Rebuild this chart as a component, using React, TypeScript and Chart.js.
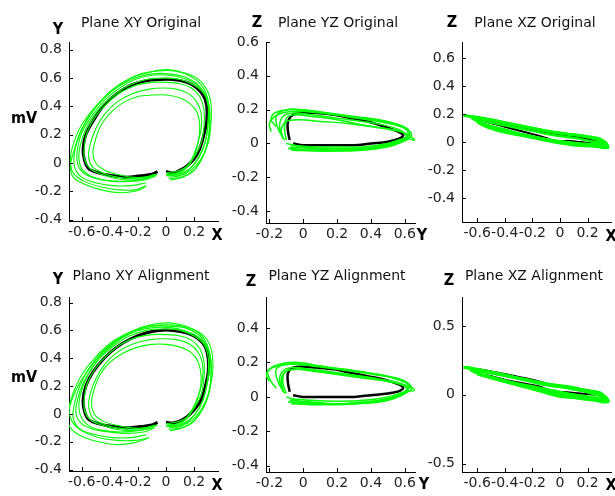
import React, { useEffect, useRef } from 'react';
import { Chart, registerables } from 'chart.js';

Chart.register(...registerables);

type P = [number, number];

// ---------- tick labels ----------
const xTicksX: number[] = [-0.6, -0.4, -0.2, 0, 0.2];
const xyTicksY: number[] = [-0.4, -0.2, 0, 0.2, 0.4, 0.6, 0.8];
const yzTicksX: number[] = [-0.2, 0, 0.2, 0.4, 0.6];
const yzOrigTicksY: number[] = [-0.4, -0.2, 0, 0.2, 0.4, 0.6];
const yzAlignTicksY: number[] = [-0.4, -0.2, 0, 0.2, 0.4];
const xzOrigTicksY: number[] = [-0.4, -0.2, 0, 0.2, 0.4, 0.6];
const xzAlignTicksY: number[] = [-0.5, 0, 0.5];

// ---------- Plane XY Original ----------
const xyOrigMean: P[] = [[0.0,-0.06],[0.05,-0.07],[0.1,-0.05],[0.15,-0.02],[0.2,0.03],[0.24,0.1],[0.27,0.2],[0.29,0.3],[0.29,0.4],[0.27,0.47],[0.22,0.53],[0.15,0.57],[0.05,0.59],[-0.05,0.59],[-0.15,0.58],[-0.25,0.55],[-0.35,0.49],[-0.44,0.41],[-0.51,0.31],[-0.57,0.2],[-0.59,0.1],[-0.58,0.02],[-0.55,-0.04],[-0.48,-0.07],[-0.38,-0.09],[-0.28,-0.1],[-0.18,-0.09],[-0.1,-0.08],[-0.06,-0.06]];
const xyOrigBeat1: P[] = [[0.02,-0.1],[0.1,-0.09],[0.18,-0.05],[0.25,0.03],[0.3,0.14],[0.32,0.28],[0.32,0.42],[0.29,0.52],[0.22,0.6],[0.12,0.64],[0.0,0.66],[-0.12,0.64],[-0.25,0.6],[-0.38,0.52],[-0.5,0.4],[-0.6,0.27],[-0.66,0.13],[-0.68,0.02],[-0.66,-0.07],[-0.58,-0.13],[-0.46,-0.17],[-0.34,-0.19],[-0.22,-0.19],[-0.14,-0.16]];
const xyOrigBeat2: P[] = [[0.0,-0.08],[0.08,-0.07],[0.15,-0.03],[0.2,0.05],[0.23,0.15],[0.24,0.27],[0.22,0.36],[0.17,0.42],[0.1,0.46],[0.0,0.48],[-0.1,0.48],[-0.2,0.47],[-0.3,0.43],[-0.39,0.36],[-0.46,0.27],[-0.5,0.17],[-0.52,0.07],[-0.5,0.0],[-0.44,-0.05],[-0.35,-0.08],[-0.25,-0.1],[-0.15,-0.1],[-0.08,-0.08]];
const xyOrigBeat3: P[] = [[0.01,-0.08],[0.08,-0.09],[0.15,-0.06],[0.21,0.0],[0.26,0.09],[0.29,0.2],[0.3,0.32],[0.3,0.42],[0.27,0.5],[0.21,0.56],[0.12,0.6],[0.02,0.62],[-0.1,0.62],[-0.22,0.59],[-0.33,0.53],[-0.44,0.44],[-0.53,0.33],[-0.6,0.21],[-0.63,0.1],[-0.63,0.0],[-0.59,-0.07],[-0.5,-0.11],[-0.38,-0.13],[-0.26,-0.13],[-0.15,-0.12],[-0.07,-0.09]];
const xyOrigBeat4: P[] = [[0.0,-0.07],[0.07,-0.06],[0.14,-0.03],[0.2,0.04],[0.25,0.14],[0.27,0.26],[0.27,0.38],[0.24,0.47],[0.18,0.53],[0.1,0.56],[0.0,0.57],[-0.1,0.57],[-0.21,0.55],[-0.32,0.5],[-0.42,0.42],[-0.5,0.33],[-0.56,0.22],[-0.58,0.12],[-0.58,0.03],[-0.54,-0.04],[-0.46,-0.08],[-0.36,-0.11],[-0.25,-0.12],[-0.14,-0.11],[-0.06,-0.08]];
const xyOrigBeat5: P[] = [[0.03,-0.12],[0.12,-0.1],[0.2,-0.05],[0.26,0.04],[0.3,0.16],[0.31,0.3],[0.3,0.44],[0.26,0.54],[0.18,0.61],[0.06,0.65],[-0.06,0.65],[-0.18,0.63],[-0.3,0.57],[-0.42,0.48],[-0.52,0.37],[-0.6,0.24],[-0.65,0.1],[-0.68,-0.02],[-0.66,-0.1],[-0.58,-0.15],[-0.46,-0.19],[-0.33,-0.21],[-0.22,-0.2],[-0.15,-0.17]];
const xyOrigBeat6: P[] = [[0.0,-0.09],[0.09,-0.08],[0.17,-0.04],[0.23,0.04],[0.28,0.15],[0.3,0.28],[0.3,0.4],[0.27,0.49],[0.2,0.55],[0.1,0.59],[-0.02,0.6],[-0.14,0.59],[-0.26,0.55],[-0.37,0.48],[-0.47,0.39],[-0.55,0.28],[-0.6,0.16],[-0.62,0.05],[-0.6,-0.04],[-0.54,-0.09],[-0.44,-0.12],[-0.32,-0.13],[-0.2,-0.12],[-0.1,-0.1]];
const xyOrigBeat7: P[] = [[0.02,-0.11],[0.11,-0.1],[0.19,-0.06],[0.25,0.02],[0.29,0.12],[0.31,0.25],[0.31,0.38],[0.28,0.48],[0.22,0.56],[0.13,0.61],[0.02,0.63],[-0.1,0.63],[-0.22,0.6],[-0.34,0.54],[-0.45,0.45],[-0.54,0.34],[-0.61,0.21],[-0.65,0.08],[-0.65,-0.03],[-0.6,-0.1],[-0.5,-0.14],[-0.38,-0.16],[-0.25,-0.16],[-0.14,-0.14]];
const xyOrigBeat8: P[] = [[0.01,-0.09],[0.07,-0.08],[0.13,-0.05],[0.18,0.02],[0.22,0.12],[0.25,0.24],[0.25,0.35],[0.22,0.43],[0.16,0.49],[0.08,0.52],[-0.02,0.53],[-0.13,0.52],[-0.24,0.49],[-0.35,0.43],[-0.44,0.34],[-0.5,0.24],[-0.54,0.13],[-0.55,0.04],[-0.52,-0.03],[-0.45,-0.07],[-0.35,-0.1],[-0.24,-0.11],[-0.14,-0.1],[-0.07,-0.08]];

// ---------- Plane YZ Original ----------
const yzOrigMean: P[] = [[-0.06,0.0],[0.0,-0.01],[0.1,-0.01],[0.2,-0.01],[0.3,-0.01],[0.4,0.0],[0.5,0.01],[0.57,0.03],[0.59,0.05],[0.56,0.07],[0.48,0.1],[0.38,0.13],[0.28,0.15],[0.18,0.17],[0.08,0.18],[0.0,0.18],[-0.06,0.17],[-0.09,0.13],[-0.09,0.07],[-0.08,0.02]];
const yzOrigBeat1: P[] = [[-0.08,-0.02],[0.05,-0.03],[0.2,-0.04],[0.35,-0.03],[0.5,-0.01],[0.6,0.02],[0.64,0.05],[0.6,0.09],[0.5,0.12],[0.38,0.14],[0.25,0.16],[0.1,0.18],[-0.05,0.19],[-0.15,0.17],[-0.2,0.12],[-0.19,0.07]];
const yzOrigBeat2: P[] = [[-0.1,0.0],[0.0,-0.02],[0.15,-0.03],[0.3,-0.03],[0.45,-0.02],[0.56,0.0],[0.62,0.03],[0.6,0.06],[0.52,0.08],[0.4,0.1],[0.25,0.12],[0.1,0.13],[-0.02,0.14],[-0.1,0.13],[-0.13,0.08],[-0.12,0.03]];
const yzOrigBeat3: P[] = [[-0.08,-0.03],[0.05,-0.04],[0.2,-0.04],[0.35,-0.03],[0.48,-0.01],[0.58,0.02],[0.62,0.06],[0.58,0.1],[0.48,0.13],[0.35,0.15],[0.2,0.17],[0.05,0.19],[-0.08,0.2],[-0.17,0.18],[-0.19,0.14],[-0.16,0.1]];
const yzOrigBeat4: P[] = [[-0.07,-0.01],[0.05,-0.02],[0.2,-0.02],[0.35,-0.02],[0.5,0.0],[0.6,0.03],[0.66,0.02],[0.58,0.07],[0.48,0.09],[0.35,0.11],[0.2,0.14],[0.05,0.16],[-0.05,0.17],[-0.1,0.15],[-0.11,0.08],[-0.1,0.02]];
const yzOrigBeat5: P[] = [[-0.09,-0.03],[0.05,-0.04],[0.2,-0.045],[0.35,-0.04],[0.5,-0.02],[0.58,0.01],[0.61,0.04],[0.57,0.08],[0.47,0.11],[0.35,0.13],[0.2,0.15],[0.05,0.17],[-0.06,0.18],[-0.12,0.16],[-0.14,0.1],[-0.12,0.03]];
const yzOrigBeat6: P[] = [[-0.07,-0.04],[0.1,-0.045],[0.25,-0.04],[0.4,-0.03],[0.52,-0.01],[0.6,0.03],[0.63,0.07],[0.57,0.11],[0.45,0.14],[0.3,0.16],[0.15,0.18],[0.0,0.2],[-0.1,0.2],[-0.16,0.16],[-0.15,0.09],[-0.11,0.02]];

// ---------- Plane XZ Original ----------
const xzOrigMean: P[] = [[-0.62,0.18],[-0.5,0.15],[-0.35,0.12],[-0.2,0.09],[-0.05,0.06],[0.1,0.04],[0.22,0.02],[0.3,0.0],[0.28,-0.01],[0.15,0.0],[0.05,0.01],[-0.02,0.0],[-0.1,0.03],[-0.25,0.07],[-0.4,0.11],[-0.55,0.15],[-0.62,0.18]];
const xzOrigBeat1: P[] = [[-0.7,0.19],[-0.55,0.17],[-0.4,0.14],[-0.25,0.11],[-0.1,0.08],[0.05,0.06],[0.2,0.04],[0.3,0.02],[0.35,-0.04],[0.25,-0.03],[0.1,-0.01],[-0.05,0.01],[-0.2,0.04],[-0.35,0.07],[-0.5,0.11],[-0.62,0.16]];
const xzOrigBeat2: P[] = [[-0.66,0.18],[-0.5,0.16],[-0.35,0.13],[-0.2,0.1],[-0.05,0.07],[0.1,0.05],[0.22,0.03],[0.3,0.0],[0.32,-0.03],[0.2,-0.02],[0.05,0.0],[-0.1,0.02],[-0.25,0.05],[-0.4,0.09],[-0.55,0.13],[-0.64,0.17]];
const xzOrigBeat3: P[] = [[-0.64,0.18],[-0.56,0.12],[-0.45,0.08],[-0.3,0.05],[-0.15,0.03],[0.0,0.0],[0.15,-0.01],[0.28,-0.02],[0.33,-0.03],[0.25,0.0],[0.1,0.03],[-0.05,0.05],[-0.2,0.08],[-0.35,0.11],[-0.5,0.14],[-0.62,0.17]];
const xzOrigBeat4: P[] = [[-0.68,0.19],[-0.52,0.16],[-0.36,0.13],[-0.2,0.1],[-0.04,0.07],[0.12,0.05],[0.25,0.03],[0.33,0.0],[0.34,-0.03],[0.22,-0.03],[0.08,-0.02],[-0.05,0.0],[-0.2,0.03],[-0.36,0.07],[-0.5,0.1],[-0.6,0.14]];

// ---------- Plano XY Alignment ----------
const xyAlignMean: P[] = [[0.0,-0.06],[0.05,-0.065],[0.1,-0.05],[0.15,-0.02],[0.2,0.03],[0.25,0.1],[0.28,0.2],[0.3,0.3],[0.3,0.4],[0.28,0.48],[0.23,0.54],[0.15,0.58],[0.05,0.6],[-0.05,0.6],[-0.15,0.58],[-0.25,0.54],[-0.35,0.48],[-0.44,0.4],[-0.52,0.3],[-0.57,0.2],[-0.59,0.1],[-0.58,0.02],[-0.55,-0.04],[-0.48,-0.07],[-0.38,-0.09],[-0.28,-0.1],[-0.18,-0.09],[-0.1,-0.08],[-0.06,-0.06]];
const xyAlignBeat1: P[] = [[0.02,-0.1],[0.1,-0.09],[0.18,-0.05],[0.25,0.03],[0.3,0.14],[0.33,0.28],[0.33,0.42],[0.3,0.52],[0.23,0.59],[0.12,0.63],[0.0,0.64],[-0.12,0.63],[-0.25,0.59],[-0.38,0.52],[-0.5,0.41],[-0.6,0.28],[-0.66,0.15],[-0.69,0.04],[-0.67,-0.05],[-0.6,-0.12],[-0.48,-0.17],[-0.35,-0.19],[-0.22,-0.19],[-0.12,-0.17]];
const xyAlignBeat2: P[] = [[0.0,-0.08],[0.08,-0.07],[0.15,-0.03],[0.2,0.05],[0.24,0.16],[0.25,0.27],[0.23,0.37],[0.18,0.44],[0.1,0.48],[0.0,0.5],[-0.1,0.5],[-0.2,0.48],[-0.3,0.44],[-0.4,0.37],[-0.47,0.28],[-0.51,0.18],[-0.53,0.08],[-0.51,0.0],[-0.45,-0.05],[-0.36,-0.08],[-0.25,-0.1],[-0.15,-0.1],[-0.08,-0.08]];
const xyAlignBeat3: P[] = [[0.01,-0.08],[0.08,-0.09],[0.15,-0.06],[0.21,0.0],[0.26,0.09],[0.29,0.2],[0.31,0.32],[0.31,0.42],[0.28,0.5],[0.22,0.56],[0.13,0.6],[0.03,0.62],[-0.08,0.62],[-0.2,0.6],[-0.32,0.54],[-0.43,0.45],[-0.52,0.34],[-0.59,0.22],[-0.63,0.1],[-0.64,0.0],[-0.6,-0.07],[-0.52,-0.11],[-0.4,-0.13],[-0.28,-0.14],[-0.16,-0.13],[-0.08,-0.1]];
const xyAlignBeat4: P[] = [[0.0,-0.07],[0.07,-0.06],[0.14,-0.03],[0.2,0.04],[0.25,0.14],[0.27,0.26],[0.27,0.38],[0.24,0.47],[0.18,0.53],[0.1,0.56],[0.0,0.57],[-0.1,0.57],[-0.21,0.55],[-0.32,0.5],[-0.42,0.42],[-0.5,0.33],[-0.56,0.22],[-0.58,0.12],[-0.58,0.03],[-0.54,-0.04],[-0.46,-0.08],[-0.36,-0.11],[-0.25,-0.12],[-0.14,-0.11],[-0.06,-0.08]];
const xyAlignBeat5: P[] = [[0.03,-0.12],[0.12,-0.1],[0.2,-0.05],[0.27,0.05],[0.31,0.17],[0.32,0.3],[0.31,0.44],[0.27,0.54],[0.19,0.61],[0.07,0.65],[-0.06,0.65],[-0.18,0.62],[-0.3,0.56],[-0.42,0.47],[-0.52,0.36],[-0.61,0.23],[-0.67,0.1],[-0.7,-0.02],[-0.68,-0.1],[-0.6,-0.16],[-0.48,-0.2],[-0.36,-0.22],[-0.24,-0.21],[-0.14,-0.18]];
const xyAlignBeat6: P[] = [[0.0,-0.09],[0.09,-0.08],[0.17,-0.04],[0.24,0.05],[0.28,0.16],[0.3,0.29],[0.3,0.41],[0.27,0.5],[0.2,0.56],[0.1,0.6],[-0.02,0.61],[-0.14,0.6],[-0.26,0.56],[-0.37,0.49],[-0.47,0.4],[-0.55,0.29],[-0.6,0.17],[-0.62,0.06],[-0.6,-0.03],[-0.54,-0.09],[-0.44,-0.12],[-0.32,-0.13],[-0.2,-0.12],[-0.1,-0.1]];
const xyAlignBeat7: P[] = [[0.02,-0.11],[0.11,-0.1],[0.19,-0.06],[0.25,0.02],[0.3,0.13],[0.32,0.26],[0.32,0.39],[0.29,0.49],[0.23,0.57],[0.13,0.62],[0.02,0.63],[-0.1,0.63],[-0.22,0.6],[-0.34,0.54],[-0.45,0.45],[-0.54,0.34],[-0.61,0.21],[-0.65,0.08],[-0.66,-0.03],[-0.61,-0.11],[-0.5,-0.15],[-0.38,-0.17],[-0.25,-0.17],[-0.14,-0.15]];
const xyAlignBeat8: P[] = [[0.01,-0.09],[0.07,-0.08],[0.13,-0.05],[0.18,0.02],[0.23,0.13],[0.26,0.25],[0.26,0.36],[0.23,0.44],[0.17,0.5],[0.09,0.53],[-0.02,0.54],[-0.13,0.53],[-0.24,0.5],[-0.35,0.44],[-0.44,0.35],[-0.5,0.25],[-0.54,0.14],[-0.55,0.05],[-0.52,-0.03],[-0.45,-0.07],[-0.35,-0.1],[-0.24,-0.11],[-0.14,-0.1],[-0.07,-0.08]];

// ---------- Plane YZ Alignment ----------
const yzAlignMean: P[] = [[-0.06,0.01],[0.0,0.0],[0.1,0.0],[0.2,0.0],[0.3,0.0],[0.4,0.01],[0.5,0.02],[0.57,0.035],[0.59,0.055],[0.56,0.075],[0.48,0.1],[0.38,0.12],[0.28,0.14],[0.18,0.16],[0.08,0.17],[0.0,0.175],[-0.06,0.17],[-0.09,0.14],[-0.09,0.08],[-0.08,0.03]];
const yzAlignBeat1: P[] = [[-0.08,-0.02],[0.05,-0.03],[0.2,-0.04],[0.35,-0.03],[0.5,-0.01],[0.6,0.02],[0.64,0.05],[0.6,0.09],[0.5,0.12],[0.38,0.14],[0.25,0.16],[0.1,0.18],[-0.03,0.2],[-0.14,0.19],[-0.21,0.15],[-0.19,0.09],[-0.16,0.05]];
const yzAlignBeat2: P[] = [[-0.1,0.0],[0.0,-0.03],[0.15,-0.04],[0.3,-0.04],[0.45,-0.03],[0.56,0.0],[0.62,0.04],[0.58,0.07],[0.5,0.09],[0.4,0.11],[0.25,0.13],[0.1,0.15],[-0.02,0.16],[-0.1,0.15],[-0.13,0.1],[-0.12,0.04]];
const yzAlignBeat3: P[] = [[-0.07,-0.03],[0.05,-0.04],[0.2,-0.045],[0.35,-0.035],[0.48,-0.015],[0.58,0.02],[0.63,0.06],[0.58,0.1],[0.48,0.12],[0.35,0.14],[0.2,0.16],[0.05,0.18],[-0.08,0.19],[-0.18,0.17],[-0.22,0.13],[-0.2,0.09]];
const yzAlignBeat4: P[] = [[-0.08,-0.01],[0.05,-0.02],[0.2,-0.025],[0.35,-0.02],[0.5,0.0],[0.6,0.03],[0.66,0.04],[0.6,0.07],[0.5,0.09],[0.35,0.11],[0.2,0.13],[0.05,0.15],[-0.05,0.16],[-0.11,0.14],[-0.12,0.08],[-0.1,0.02]];
const yzAlignBeat5: P[] = [[-0.09,-0.03],[0.05,-0.04],[0.2,-0.04],[0.35,-0.035],[0.5,-0.02],[0.58,0.01],[0.61,0.05],[0.57,0.08],[0.47,0.1],[0.35,0.12],[0.2,0.14],[0.05,0.16],[-0.06,0.17],[-0.12,0.15],[-0.14,0.1],[-0.12,0.03]];
const yzAlignBeat6: P[] = [[-0.07,-0.04],[0.1,-0.045],[0.25,-0.04],[0.4,-0.03],[0.52,-0.01],[0.6,0.03],[0.62,0.07],[0.56,0.1],[0.45,0.13],[0.3,0.15],[0.15,0.17],[0.0,0.19],[-0.1,0.19],[-0.16,0.16],[-0.15,0.09],[-0.11,0.02]];

// ---------- Plane XZ Alignment ----------
const xzAlignMean: P[] = [[-0.62,0.19],[-0.5,0.17],[-0.35,0.14],[-0.2,0.11],[-0.05,0.07],[0.1,0.05],[0.22,0.03],[0.3,0.01],[0.28,0.0],[0.15,0.01],[0.02,0.02],[-0.08,0.02],[-0.12,0.05],[-0.25,0.08],[-0.4,0.11],[-0.52,0.14],[-0.6,0.16],[-0.62,0.19]];
const xzAlignBeat1: P[] = [[-0.7,0.2],[-0.55,0.17],[-0.4,0.14],[-0.25,0.11],[-0.1,0.08],[0.05,0.06],[0.2,0.03],[0.3,0.01],[0.35,-0.05],[0.25,-0.04],[0.1,-0.02],[0.0,-0.01],[-0.15,0.03],[-0.3,0.07],[-0.45,0.11],[-0.6,0.15]];
const xzAlignBeat2: P[] = [[-0.66,0.19],[-0.5,0.16],[-0.35,0.13],[-0.2,0.1],[-0.05,0.07],[0.1,0.04],[0.22,0.02],[0.3,0.0],[0.32,-0.03],[0.2,-0.03],[0.05,-0.01],[-0.1,0.02],[-0.25,0.06],[-0.4,0.1],[-0.55,0.14],[-0.65,0.18]];
const xzAlignBeat3: P[] = [[-0.68,0.2],[-0.52,0.17],[-0.38,0.14],[-0.22,0.1],[-0.08,0.07],[0.08,0.05],[0.2,0.02],[0.3,-0.01],[0.34,-0.04],[0.24,-0.02],[0.1,0.0],[-0.05,0.03],[-0.2,0.06],[-0.35,0.09],[-0.5,0.13],[-0.62,0.17]];

// ---------- styling / layout ----------
const GREEN = '#00ff00';
const BLACK = '#000000';
const TICK_FONT = '"DejaVu Sans", Verdana, sans-serif';
const LABEL_FONT = '"Liberation Sans Narrow", "Arial Narrow", "DejaVu Sans Condensed", sans-serif';
const W = 615;
const H = 496;
const Y_AXIS_W = 45;
const X_AXIS_H = 30;

interface Panel {
  title: string;
  titleCx: number;
  titleCy: number;
  l: number; t: number; r: number; b: number;
  xMin: number; xMax: number; yMin: number; yMax: number;
  xTicks: number[]; yTicks: number[];
  beats: P[][];
  meanPts: P[];
  beatWidth: number;
  meanWidth: number;
}

const panels: Panel[] = [
  { title: 'Plane XY Original', titleCx: 141, titleCy: 22, l: 69, t: 42, r: 218, b: 221,
    xMin: -0.69, xMax: 0.37, yMin: -0.41, yMax: 0.855, xTicks: xTicksX, yTicks: xyTicksY,
    beats: [xyOrigBeat1, xyOrigBeat2, xyOrigBeat3, xyOrigBeat4, xyOrigBeat5, xyOrigBeat6, xyOrigBeat7, xyOrigBeat8], meanPts: xyOrigMean, beatWidth: 1.1, meanWidth: 3 },
  { title: 'Plane YZ Original', titleCx: 338, titleCy: 22, l: 266, t: 42, r: 415, b: 223,
    xMin: -0.22, xMax: 0.66, yMin: -0.47, yMax: 0.6, xTicks: yzTicksX, yTicks: yzOrigTicksY,
    beats: [yzOrigBeat1, yzOrigBeat2, yzOrigBeat3, yzOrigBeat4, yzOrigBeat5, yzOrigBeat6], meanPts: yzOrigMean, beatWidth: 1.5, meanWidth: 2.5 },
  { title: 'Plane XZ Original', titleCx: 535, titleCy: 22, l: 462, t: 42, r: 611, b: 222,
    xMin: -0.71, xMax: 0.37, yMin: -0.57, yMax: 0.714, xTicks: xTicksX, yTicks: xzOrigTicksY,
    beats: [xzOrigBeat1, xzOrigBeat2, xzOrigBeat3, xzOrigBeat4], meanPts: xzOrigMean, beatWidth: 2.5, meanWidth: 2 },
  { title: 'Plano XY Alignment', titleCx: 141, titleCy: 275, l: 69, t: 297, r: 218, b: 471,
    xMin: -0.69, xMax: 0.37, yMin: -0.41, yMax: 0.84, xTicks: xTicksX, yTicks: xyTicksY,
    beats: [xyAlignBeat1, xyAlignBeat2, xyAlignBeat3, xyAlignBeat4, xyAlignBeat5, xyAlignBeat6, xyAlignBeat7, xyAlignBeat8], meanPts: xyAlignMean, beatWidth: 1.1, meanWidth: 3 },
  { title: 'Plane YZ Alignment', titleCx: 337, titleCy: 275, l: 266, t: 297, r: 415, b: 472,
    xMin: -0.22, xMax: 0.66, yMin: -0.436, yMax: 0.58, xTicks: yzTicksX, yTicks: yzAlignTicksY,
    beats: [yzAlignBeat1, yzAlignBeat2, yzAlignBeat3, yzAlignBeat4, yzAlignBeat5, yzAlignBeat6], meanPts: yzAlignMean, beatWidth: 1.5, meanWidth: 2.5 },
  { title: 'Plane XZ Alignment', titleCx: 534, titleCy: 275, l: 462, t: 297, r: 611, b: 472,
    xMin: -0.71, xMax: 0.37, yMin: -0.56, yMax: 0.71, xTicks: xTicksX, yTicks: xzAlignTicksY,
    beats: [xzAlignBeat1, xzAlignBeat2, xzAlignBeat3], meanPts: xzAlignMean, beatWidth: 3, meanWidth: 2 },
];

const axisLetters: { text: string; cx: number; cy: number }[] = [
  { text: 'Y', cx: 58, cy: 29 },
  { text: 'mV', cx: 24, cy: 118 },
  { text: 'X', cx: 217, cy: 235 },
  { text: 'Z', cx: 257, cy: 22 },
  { text: 'Y', cx: 422, cy: 235 },
  { text: 'Z', cx: 452, cy: 22 },
  { text: 'X', cx: 611, cy: 236 },
  { text: 'Y', cx: 58, cy: 279 },
  { text: 'mV', cx: 24, cy: 377 },
  { text: 'X', cx: 217, cy: 485 },
  { text: 'Z', cx: 251, cy: 281 },
  { text: 'Y', cx: 424, cy: 484 },
  { text: 'Z', cx: 449, cy: 280 },
  { text: 'X', cx: 611, cy: 485 },
];

const fmt = (v: number): string => (Math.abs(v) < 1e-9 ? '0' : String(+v.toFixed(1)));

const inwardTicks = {
  id: 'inwardTicks',
  afterDraw(chart: any) {
    const { ctx, chartArea, scales } = chart;
    ctx.save();
    ctx.strokeStyle = '#000';
    ctx.lineWidth = 1;
    const xs = scales.x;
    const ys = scales.y;
    xs.ticks.forEach((t: any) => {
      const px = Math.round(xs.getPixelForValue(t.value)) + 0.5;
      ctx.beginPath();
      ctx.moveTo(px, chartArea.bottom);
      ctx.lineTo(px, chartArea.bottom - 4);
      ctx.stroke();
    });
    ys.ticks.forEach((t: any) => {
      const py = Math.round(ys.getPixelForValue(t.value)) + 0.5;
      ctx.beginPath();
      ctx.moveTo(chartArea.left, py);
      ctx.lineTo(chartArea.left + 4, py);
      ctx.stroke();
    });
    ctx.restore();
  },
};

const toXY = (pts: P[]) => pts.map(([x, y]) => ({ x, y }));

function PanelChart({ p }: { p: Panel }) {
  const ref = useRef<HTMLCanvasElement | null>(null);
  useEffect(() => {
    if (!ref.current) return;
    const datasets: any[] = p.beats.map((b) => ({
      data: toXY(b),
      showLine: true,
      borderColor: GREEN,
      backgroundColor: GREEN,
      borderWidth: p.beatWidth,
      pointRadius: 0,
      tension: 0.35,
    }));
    datasets.push({
      data: toXY(p.meanPts),
      showLine: true,
      borderColor: BLACK,
      backgroundColor: BLACK,
      borderWidth: p.meanWidth,
      pointRadius: 0,
      tension: 0.35,
    });
    const tickFont = { family: TICK_FONT, size: 14 };
    const chart = new Chart(ref.current, {
      type: 'scatter',
      data: { datasets },
      plugins: [inwardTicks],
      options: {
        responsive: false,
        animation: false,
        events: [],
        layout: {
          padding: {
            left: p.l - Y_AXIS_W,
            top: p.t,
            right: W - p.r,
            bottom: H - p.b - X_AXIS_H,
          },
        },
        plugins: { legend: { display: false }, tooltip: { enabled: false }, title: { display: false } },
        scales: {
          x: {
            type: 'linear',
            min: p.xMin,
            max: p.xMax,
            bounds: 'data',
            grid: { display: false, drawTicks: false },
            border: { display: true, color: '#000', width: 1 },
            ticks: { autoSkip: false, maxRotation: 0, padding: 3, font: tickFont, color: '#222', callback: (v: any) => fmt(Number(v)) },
            afterBuildTicks: (s: any) => { s.ticks = p.xTicks.map((v) => ({ value: v })); },
            afterFit: (s: any) => { s.height = X_AXIS_H; },
          },
          y: {
            type: 'linear',
            min: p.yMin,
            max: p.yMax,
            bounds: 'data',
            grid: { display: false, drawTicks: false },
            border: { display: true, color: '#000', width: 1 },
            ticks: { autoSkip: false, padding: 7, font: tickFont, color: '#222', callback: (v: any) => fmt(Number(v)) },
            afterBuildTicks: (s: any) => { s.ticks = p.yTicks.map((v) => ({ value: v })); },
            afterFit: (s: any) => { s.width = Y_AXIS_W; },
          },
        },
      } as any,
    });
    return () => chart.destroy();
  }, [p]);
  return (
    <canvas
      ref={ref}
      width={W}
      height={H}
      style={{ position: 'absolute', left: 0, top: 0, width: W, height: H }}
    />
  );
}

export default function App() {
  return (
    <div style={{ position: 'absolute', left: 0, top: 0, width: W, height: H, background: '#fff', overflow: 'hidden' }}>
      {panels.map((p, i) => (
        <PanelChart key={i} p={p} />
      ))}
      {panels.map((p, i) => (
        <div
          key={'t' + i}
          style={{
            position: 'absolute',
            left: p.titleCx,
            top: p.titleCy,
            transform: 'translate(-50%, -50%)',
            whiteSpace: 'nowrap',
            fontFamily: TICK_FONT,
            fontSize: 14,
            lineHeight: '16px',
            color: '#111',
          }}
        >
          {p.title}
        </div>
      ))}
      {axisLetters.map((a, i) => (
        <div
          key={'a' + i}
          style={{
            position: 'absolute',
            left: a.cx,
            top: a.cy,
            transform: 'translate(-50%, -50%)',
            whiteSpace: 'nowrap',
            fontFamily: LABEL_FONT,
            fontWeight: 'bold',
            fontSize: 16,
            lineHeight: '16px',
            color: '#000',
          }}
        >
          {a.text}
        </div>
      ))}
    </div>
  );
}
